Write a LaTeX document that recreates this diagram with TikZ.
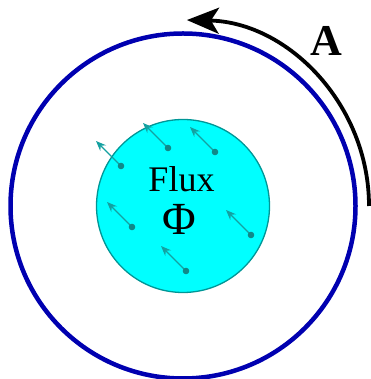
\documentclass[tikz,border=0pt]{standalone}
\usepackage{fontspec}
\setmainfont{Liberation Serif}
\usepackage{xcolor}
\usetikzlibrary{arrows.meta, positioning, calc}
\definecolor{loopblue}{RGB}{0,0,176}
\definecolor{fluxfill}{RGB}{0,255,255}
\definecolor{fluxedge}{RGB}{0,150,150}
\definecolor{fieldteal}{RGB}{20,160,160}

\begin{document}
\begin{tikzpicture}[
    x=1pt,y=1pt,
    loop/.style={draw=loopblue, line width=4.5pt},
    surface/.style={circle, draw=fluxedge, fill=fluxfill, line width=1.3pt,
        minimum size=173pt, inner sep=0pt},
    field/.style={-{Stealth[length=10pt,width=8pt]}, draw=fieldteal, line width=1.3pt},
    tail/.style={fill=fieldteal!85!black, draw=none},
    circ/.style={-{Stealth[length=32pt,width=26pt,inset=8pt]}, line width=3.8pt},
    lbl/.style={font=\fontsize{36}{40}\selectfont}
]
\useasboundingbox (0,0) rectangle (370,379);

% --- Loop and flux surface ---
\coordinate (c) at (183,173);
\draw[loop] (c) circle (172.5);
\node[surface] (disk) at (c) {};

% --- Field arrows through the surface ---
\foreach \name/\px/\py in {f1/121/213, f2/168/231, f3/215/227,
                           f4/132/152, f5/251/144, f6/186/108} {
    \coordinate (\name) at (\px,\py);
    \coordinate (\name tip) at ($(\name)+(-25,25)$);
    \draw[field] (\name) -- (\name tip);
    \fill[tail] (\name) circle (3.3);
}

% --- Labels ---
\node[lbl, anchor=base] (flux) at (181.5,187) {Flux};
\node[font=\fontsize{46}{50}\selectfont, anchor=base] (phi) at (179,144) {Φ};

% --- Circulation ---
\coordinate (start) at (369,173);
\draw[circ] (start) arc[start angle=0, end angle=88.8, radius=186];
\node[font=\fontsize{44}{48}\selectfont\bfseries] (A) at (326,338) {A};

\end{tikzpicture}
\end{document}
